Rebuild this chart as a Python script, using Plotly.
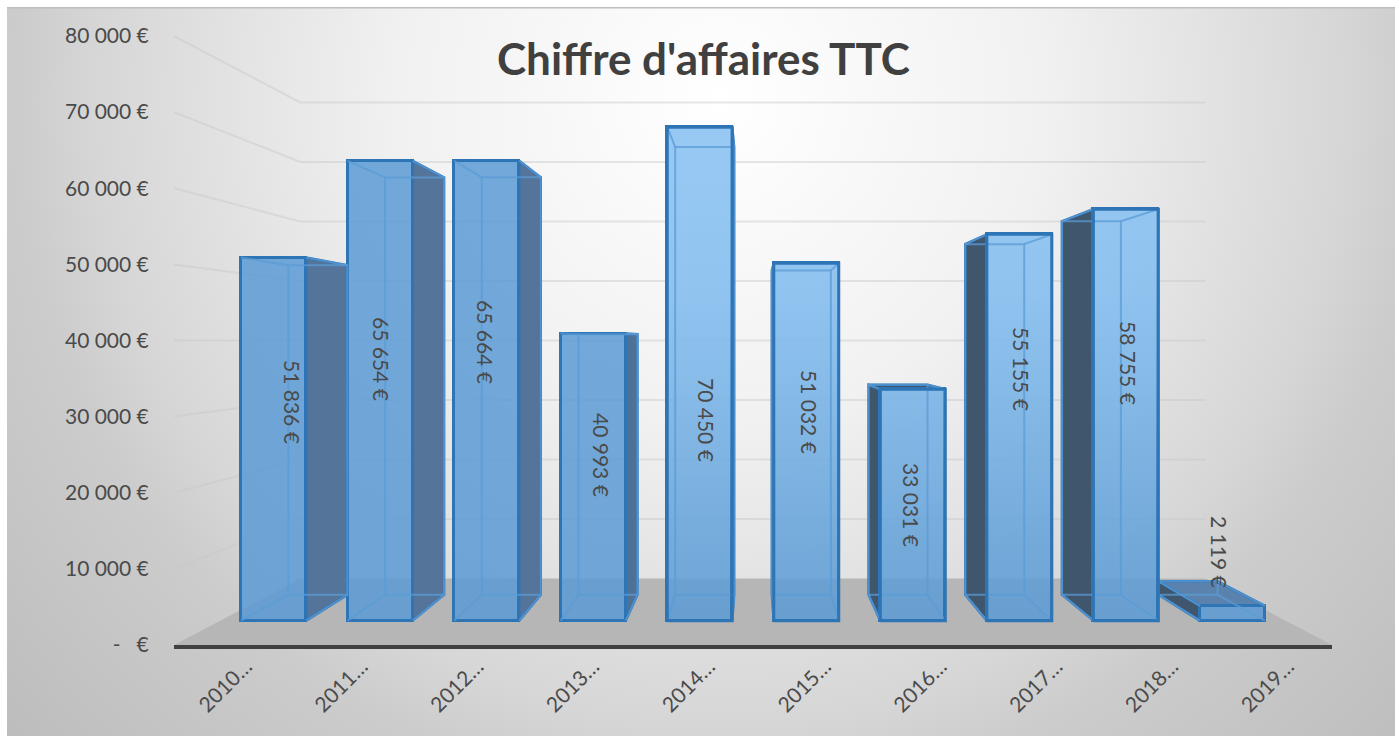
import base64
import plotly.graph_objects as go

# ---- data ----
categories = ["2010…", "2011…", "2012…", "2013…", "2014…", "2015…", "2016…", "2017…", "2018…", "2019…"]
values = [51836, 65654, 65664, 40993, 70450, 51032, 33031, 55155, 58755, 2119]
y_ticks = [0, 10000, 20000, 30000, 40000, 50000, 60000, 70000, 80000]
y_tick_labels = ["-   €", "10 000 €", "20 000 €", "30 000 €", "40 000 €", "50 000 €", "60 000 €", "70 000 €", "80 000 €"]
title_text = "Chiffre d'affaires TTC"

# ---- style ----
W, H = 1399, 738
FONT = "Lato"
TXT = "#4a4a4a"
EDGE = "#2E75B6"
INNER = "rgba(91,155,213,0.75)"
FRONT = "rgba(91,155,213,0.85)"
SIDE = ["#54749A", "#54749A", "#54749A", "#4F7097", "#4F7097", "#4F7097", "#3F566C", "#3F566C", "#3F566C", "#3F566C"]
TOP = SIDE[:9] + ["#5A82AC"]
SHEEN = [False, False, False, False, True, True, True, True, True, False]
SHEEN_SCALE = [[0, "rgba(167,215,255,0)"], [0.15, "rgba(167,215,255,0.08)"],
               [0.38, "rgba(167,215,255,0.3)"], [0.7, "rgba(167,215,255,0.58)"], [1, "rgba(167,215,255,0.68)"]]
# centres (pixels) of the rotated value labels
LABEL_PX = [(293, 402), (382, 359), (486, 342), (602, 455), (707, 420),
            (810, 412), (912, 505), (1022, 369), (1129, 363), (1220, 552)]

# perspective of the 3D box, in axis units
CX, CY = 4.5, 40000
K_FRONT, K_BACK, K_WALL = 0.92, 0.835, 0.782
HALF = 0.305
X_RANGE = [-0.5, 9.5]
Y_RANGE = [0, 80000]


def proj(x, v, k):
    return CX + k * (x - CX), CY + k * (v - CY)


def poly(points):
    xs = [p[0] for p in points] + [points[0][0]]
    ys = [p[1] for p in points] + [points[0][1]]
    return xs, ys


fig = go.Figure()

# floor
fx, fy = poly([proj(X_RANGE[0], 0, 1), proj(X_RANGE[1], 0, 1), proj(X_RANGE[1], 0, K_WALL), proj(X_RANGE[0], 0, K_WALL)])
fig.add_trace(go.Scatter(x=fx, y=fy, mode="lines", fill="toself", fillcolor="#B6B6B6",
                         line=dict(width=0), hoverinfo="skip", showlegend=False))

# wall gridlines
gx, gy = [], []
for v in y_ticks[1:]:
    a = proj(X_RANGE[0], v, 1)
    b = proj(X_RANGE[0], v, K_WALL)
    c = proj(X_RANGE[1], v, K_WALL)
    gx += [a[0], b[0], c[0], None]
    gy += [a[1], b[1], c[1], None]
fig.add_trace(go.Scatter(x=gx, y=gy, mode="lines", line=dict(color="rgba(200,200,200,0.45)", width=2),
                         hoverinfo="skip", showlegend=False))

# side and top faces
for i, v in enumerate(values):
    l, r = i - HALF, i + HALF
    faces = []
    if proj(r, 0, K_BACK)[0] > proj(r, 0, K_FRONT)[0]:
        faces.append(([proj(r, 0, K_FRONT), proj(r, v, K_FRONT), proj(r, v, K_BACK), proj(r, 0, K_BACK)], SIDE[i]))
    if proj(l, 0, K_BACK)[0] < proj(l, 0, K_FRONT)[0]:
        faces.append(([proj(l, 0, K_FRONT), proj(l, v, K_FRONT), proj(l, v, K_BACK), proj(l, 0, K_BACK)], SIDE[i]))
    if proj(l, v, K_BACK)[1] > proj(l, v, K_FRONT)[1]:
        faces.append(([proj(l, v, K_FRONT), proj(r, v, K_FRONT), proj(r, v, K_BACK), proj(l, v, K_BACK)], TOP[i]))
    for f, c in faces:
        x, y = poly(f)
        fig.add_trace(go.Scatter(x=x, y=y, mode="lines", fill="toself", fillcolor=c,
                                 line=dict(color=EDGE, width=2.5),
                                 hoverinfo="skip", showlegend=False))

# front faces: real bars, on an overlaid copy of the axes so they sit above the sides
bar_x = [proj(i, 0, K_FRONT)[0] for i in range(len(values))]
bar_base = [proj(0, 0, K_FRONT)[1]] * len(values)
bar_h = [K_FRONT * v for v in values]
fig.add_trace(go.Bar(x=bar_x, y=bar_h, base=bar_base, width=2 * HALF * K_FRONT, xaxis="x2", yaxis="y2",
                     marker=dict(color=FRONT, line=dict(color=EDGE, width=3)),
                     hoverinfo="skip", showlegend=False))

# lighter glass towards the top of the bars on the bright side of the chart
for i, v in enumerate(values):
    if SHEEN[i]:
        l, r = i - HALF, i + HALF
        x, y = poly([proj(l, 0, K_FRONT), proj(r, 0, K_FRONT), proj(r, v, K_FRONT), proj(l, v, K_FRONT)])
        fig.add_trace(go.Scatter(x=x, y=y, mode="none", fill="toself", xaxis="x2", yaxis="y2",
                                 fillgradient=dict(type="vertical", colorscale=SHEEN_SCALE, start=3200, stop=65500),
                                 hoverinfo="skip", showlegend=False))

# inner edges seen through the glass
ix, iy = [], []
ox, oy = [], []
for i, v in enumerate(values):
    l, r = i - HALF, i + HALF
    segs = [[proj(l, 0, K_BACK), proj(r, 0, K_BACK), proj(r, v, K_BACK), proj(l, v, K_BACK), proj(l, 0, K_BACK)],
            [proj(l, 0, K_FRONT), proj(l, 0, K_BACK)], [proj(r, 0, K_FRONT), proj(r, 0, K_BACK)],
            [proj(l, v, K_FRONT), proj(l, v, K_BACK)], [proj(r, v, K_FRONT), proj(r, v, K_BACK)]]
    for s in segs:
        ix += [p[0] for p in s] + [None]
        iy += [p[1] for p in s] + [None]
    if SHEEN[i]:
        x, y = poly([proj(l, 0, K_FRONT), proj(r, 0, K_FRONT), proj(r, v, K_FRONT), proj(l, v, K_FRONT)])
        ox += x + [None]
        oy += y + [None]
fig.add_trace(go.Scatter(x=ix, y=iy, mode="lines", xaxis="x2", yaxis="y2", line=dict(color=INNER, width=2),
                         hoverinfo="skip", showlegend=False))
# front outline again, above the lighter glass
fig.add_trace(go.Scatter(x=ox, y=oy, mode="lines", xaxis="x2", yaxis="y2", line=dict(color=EDGE, width=3),
                         hoverinfo="skip", showlegend=False))

# background gradient
svg = f'''<svg xmlns="http://www.w3.org/2000/svg" width="{W}" height="{H}">
<defs><radialGradient id="g" gradientUnits="userSpaceOnUse" cx="720" cy="100" r="950">
<stop offset="0" stop-color="#ffffff"/><stop offset="0.34" stop-color="#f1f1f1"/>
<stop offset="0.5" stop-color="#e4e4e4"/><stop offset="0.66" stop-color="#d6d6d6"/>
<stop offset="0.74" stop-color="#cccccc"/><stop offset="1" stop-color="#bdbdbd"/></radialGradient></defs>
<rect width="{W}" height="{H}" fill="#ffffff"/>
<rect x="7" y="8" width="1388" height="728" fill="url(#g)"/>
<rect x="7" y="7" width="1388" height="1.5" fill="#bebebe"/>
</svg>'''
src = "data:image/svg+xml;base64," + base64.b64encode(svg.encode()).decode()

annotations = [dict(text=title_text, x=703 / W, y=1 - 58 / H, xref="paper", yref="paper", showarrow=False,
                    xanchor="center", yanchor="middle", font=dict(family=FONT, size=44, color="#404040", weight="bold"))]
for v, (px, py) in zip(values, LABEL_PX):
    annotations.append(dict(text=f"{v:,}".replace(",", " ") + " €", x=px / W, y=1 - py / H, xref="paper", yref="paper",
                            showarrow=False, textangle=90, xanchor="center", yanchor="middle",
                            font=dict(family=FONT, size=21, color=TXT)))

x_dom = [174 / W, 1332 / W]
y_dom = [1 - 645 / H, 1 - 36 / H]
fig.update_layout(
    width=W, height=H, margin=dict(l=0, r=0, t=0, b=0),
    paper_bgcolor="white", plot_bgcolor="rgba(0,0,0,0)", bargap=0, barmode="overlay",
    images=[dict(source=src, xref="paper", yref="paper", x=0, y=1, sizex=1, sizey=1,
                 sizing="stretch", xanchor="left", yanchor="top", layer="below")],
    annotations=annotations,
    xaxis=dict(domain=x_dom, range=X_RANGE, tickmode="array", tickvals=list(range(len(categories))),
               ticktext=categories, tickangle=-45, ticks="", showgrid=False, zeroline=False, automargin=False,
               showline=True, linecolor="#404040", linewidth=4, ticklabelstandoff=-3, ticklabelshift=14,
               tickfont=dict(family=FONT, size=21, color=TXT)),
    yaxis=dict(domain=y_dom, range=Y_RANGE, tickmode="array", tickvals=y_ticks, ticktext=y_tick_labels,
               ticks="outside", ticklen=20, tickcolor="rgba(0,0,0,0)", showgrid=False, zeroline=False, automargin=False,
               showline=False, tickfont=dict(family=FONT, size=21, color=TXT)),
    xaxis2=dict(overlaying="x", anchor="y2", range=X_RANGE, visible=False, automargin=False),
    yaxis2=dict(overlaying="y", anchor="x2", range=Y_RANGE, visible=False, automargin=False),
)
fig.write_html("out.html", config=dict(displayModeBar=False), post_script="document.body.style.margin='0';")
